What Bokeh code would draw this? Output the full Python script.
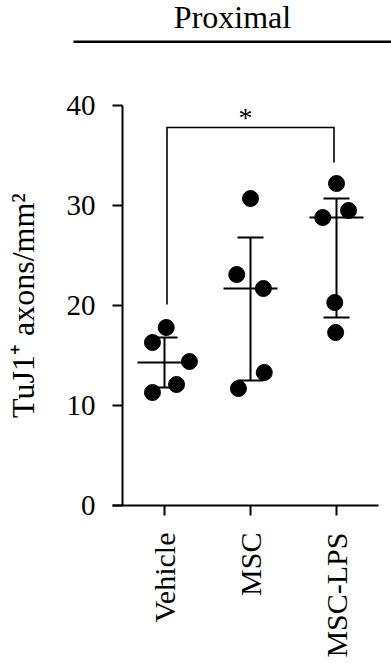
import math
from bokeh.plotting import figure
from bokeh.models import Range1d, Span, FixedTicker, Label
from bokeh.layouts import column
from bokeh.embed import file_html
from bokeh.resources import INLINE
from bokeh.core.properties import value

# ---------------- data ----------------
categories = ["Vehicle", "MSC", "MSC-LPS"]
vehicle = [17.8, 16.3, 14.4, 12.1, 11.3]
msc = [30.7, 23.1, 21.7, 13.3, 11.7]
msc_lps = [32.2, 29.5, 28.8, 20.3, 17.3]
# horizontal scatter of the points within each group (category units)
jitter_vehicle = [0.02, -0.14, 0.29, 0.14, -0.14]
jitter_msc = [0.0, -0.16, 0.15, 0.16, -0.14]
jitter_msc_lps = [0.0, 0.14, -0.16, -0.02, -0.01]
medians = [14.3, 21.7, 28.8]
q1 = [11.8, 12.5, 18.8]
q3 = [16.8, 26.8, 30.7]
y_ticks = [0, 10, 20, 30, 40]
sig_groups = [0, 2]
sig_top = 37.8
sig_leg_bottoms = [20.1, 34.3]
sig_label = "*"
panel_title = "Proximal"
y_label = "TuJ1\u207a axons/mm\u00b2"

FONT = "Liberation Serif"
groups = [vehicle, msc, msc_lps]
jitters = [jitter_vehicle, jitter_msc, jitter_msc_lps]

W = 391
PX_PER_CAT = 86.0
PX_PER_UNIT = 10.0

# ---------------- heading strip ----------------
TOP_H = 50
t = figure(width=W, height=TOP_H, x_range=Range1d(0, W), y_range=Range1d(0, TOP_H),
           x_axis_location=None, y_axis_location=None, min_border=0,
           frame_align=False, toolbar_location=None, output_backend="svg")
t.grid.visible = False
t.outline_line_color = None
t.text(x=[232], y=[33.5], text=[panel_title], text_font=value(FONT),
       text_font_size="32px", text_align="center", text_baseline="alphabetic",
       text_color="black")
t.segment(x0=[73], y0=[8.7], x1=[W], y1=[8.7], line_color="black", line_width=2.5)

# ---------------- main plot ----------------
p = figure(frame_width=266, frame_height=400,
           x_range=Range1d(-52 / PX_PER_CAT, 2 + 42 / PX_PER_CAT),
           y_range=Range1d(0, 40),
           min_border_left=112, min_border_right=13, min_border_top=55,
           min_border_bottom=158, frame_align=False,
           toolbar_location=None, output_backend="svg")
p.grid.visible = False
p.outline_line_color = None

# x axis
xa = p.xaxis[0]
xa.ticker = FixedTicker(ticks=list(range(len(categories))))
xa.major_label_overrides = {i: c for i, c in enumerate(categories)}
xa.major_label_orientation = math.pi / 2
xa.axis_line_width = 2
xa.major_tick_line_width = 2
xa.major_tick_out = 10
xa.major_tick_in = 0
xa.minor_tick_line_color = None
xa.major_label_standoff = 17
xa.major_label_text_font = FONT
xa.major_label_text_font_size = "30px"
xa.major_label_text_color = "black"

# y axis (its line drawn as a span, offset from the frame edge)
ya = p.yaxis[0]
ya.ticker = FixedTicker(ticks=y_ticks)
ya.axis_line_color = None
ya.major_tick_line_width = 2
ya.major_tick_in = 10
ya.major_tick_out = 0
ya.minor_tick_line_color = None
ya.major_label_standoff = 17
ya.major_label_text_font = FONT
ya.major_label_text_font_size = "29px"
ya.major_label_text_color = "black"
ya.axis_label = y_label
ya.axis_label_text_font = FONT
ya.axis_label_text_font_size = "32px"
ya.axis_label_text_font_style = "normal"
ya.axis_label_text_color = "black"
ya.axis_label_standoff = 23

p.add_layout(Span(location=p.x_range.start + 10 / PX_PER_CAT, dimension="height",
                  line_color="black", line_width=2))

# points
for i, (vals, jit) in enumerate(zip(groups, jitters)):
    p.scatter(x=[i + j for j in jit], y=vals, size=16, marker="circle",
              fill_color="black", line_color="black")

# median and interquartile range
MED_HALF = 27 / PX_PER_CAT
CAP_HALF = 13 / PX_PER_CAT
xs = list(range(len(categories)))
p.segment(x0=[x - MED_HALF for x in xs], x1=[x + MED_HALF for x in xs],
          y0=medians, y1=medians, line_color="black", line_width=2)
p.segment(x0=xs, x1=xs, y0=q1, y1=q3, line_color="black", line_width=2)
p.segment(x0=[x - CAP_HALF for x in xs], x1=[x + CAP_HALF for x in xs],
          y0=q1, y1=q1, line_color="black", line_width=2)
p.segment(x0=[x - CAP_HALF for x in xs], x1=[x + CAP_HALF for x in xs],
          y0=q3, y1=q3, line_color="black", line_width=2)

# significance bracket
INSET = 2.5 / PX_PER_CAT
bx0 = sig_groups[0] + INSET
bx1 = sig_groups[1] - INSET
p.line(x=[bx0, bx0, bx1, bx1],
       y=[sig_leg_bottoms[0], sig_top, sig_top, sig_leg_bottoms[1]],
       line_color="black", line_width=1.6, line_join="miter")
p.add_layout(Label(x=(bx0 + bx1) / 2, y=sig_top + 10 / PX_PER_UNIT, text=sig_label,
                   text_font=FONT, text_font_size="28px", text_align="center",
                   text_baseline="alphabetic", x_offset=-5, text_color="black"))

layout = column(t, p, spacing=0)
open("out.html", "w").write(file_html(layout, INLINE))
